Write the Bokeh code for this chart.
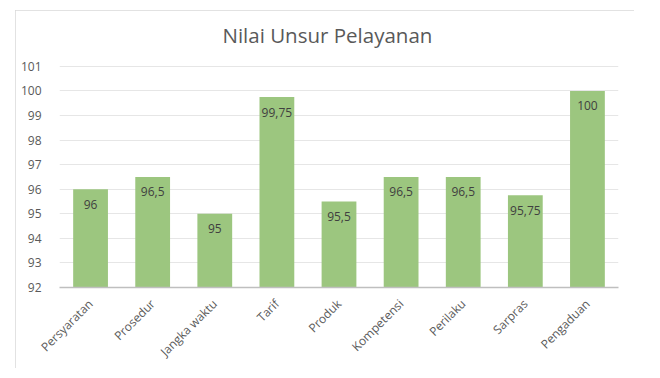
import math
from bokeh.plotting import figure
from bokeh.models import ColumnDataSource, LabelSet, Label, FixedTicker, Range1d
from bokeh.core.properties import value
from bokeh.embed import file_html
from bokeh.resources import INLINE

title_text = "Nilai Unsur Pelayanan"
categories = ["Persyaratan", "Prosedur", "Jangka waktu", "Tarif", "Produk",
              "Kompetensi", "Perilaku", "Sarpras", "Pengaduan"]
values = [96, 96.5, 95, 99.75, 95.5, 96.5, 96.5, 95.75, 100]
labels = ["96", "96,5", "95", "99,75", "95,5", "96,5", "96,5", "95,75", "100"]
y_ticks = [92, 93, 94, 95, 96, 97, 98, 99, 100, 101]
y_min, y_max = 92, 101

# geometry (pixels inside the chart box)
W, H = 619, 358
top_pad, bottom_pad = 10, 80
axis_px = 222  # pixel height of the 92..101 span
frame_h = H - top_pad - bottom_pad
y_top = y_min + frame_h * (y_max - y_min) / axis_px

source = ColumnDataSource(dict(cat=categories, val=values, lab=labels,
                               base=[y_min] * len(values)))

p = figure(x_range=categories, y_range=Range1d(y_min, y_top), width=W, height=H,
           output_backend="svg", toolbar_location=None,
           min_border_left=44, min_border_right=16, min_border_top=top_pad,
           min_border_bottom=bottom_pad)
p.styles = {"transform": "translate(15px, 10px)",
            "outline": "1px solid #d9d9d9", "outline-offset": "-1px"}

p.vbar(x="cat", top="val", bottom="base", width=0.56, source=source,
       fill_color="#9CC67F", line_color=None)

p.add_layout(LabelSet(x="cat", y="val", text="lab", source=source,
                      text_align="center", text_baseline="middle", y_offset=-15,
                      text_font=value("Open Sans"), text_font_size=value("12px"),
                      text_color="#404040"))

p.add_layout(Label(x=163, y=253, x_units="screen", y_units="screen",
                   text=title_text, text_font="Open Sans",
                   text_font_size="20.5px", text_color="#595959",
                   text_align="left", text_baseline="alphabetic"))

p.outline_line_color = None
p.xgrid.grid_line_color = None
p.ygrid.grid_line_color = "#e6e6e6"
p.yaxis.ticker = FixedTicker(ticks=y_ticks)
p.ygrid.ticker = FixedTicker(ticks=y_ticks)
p.yaxis.axis_line_color = None
p.yaxis.major_tick_line_color = None
p.yaxis.minor_tick_line_color = None
p.yaxis.major_label_text_font = "Open Sans"
p.yaxis.major_label_text_font_size = "12px"
p.yaxis.major_label_text_color = "#595959"
p.yaxis.major_label_standoff = 12

p.xaxis.axis_line_color = "#bfbfbf"
p.xaxis.axis_line_width = 1.5
p.xaxis.major_tick_line_color = None
p.xaxis.minor_tick_line_color = None
p.xaxis.major_label_orientation = math.pi / 4
p.xaxis.major_label_text_font = "Open Sans"
p.xaxis.major_label_text_font_size = "12px"
p.xaxis.major_label_text_color = "#595959"
p.xaxis.major_label_standoff = 8

open("out.html", "w").write(file_html(p, INLINE))
